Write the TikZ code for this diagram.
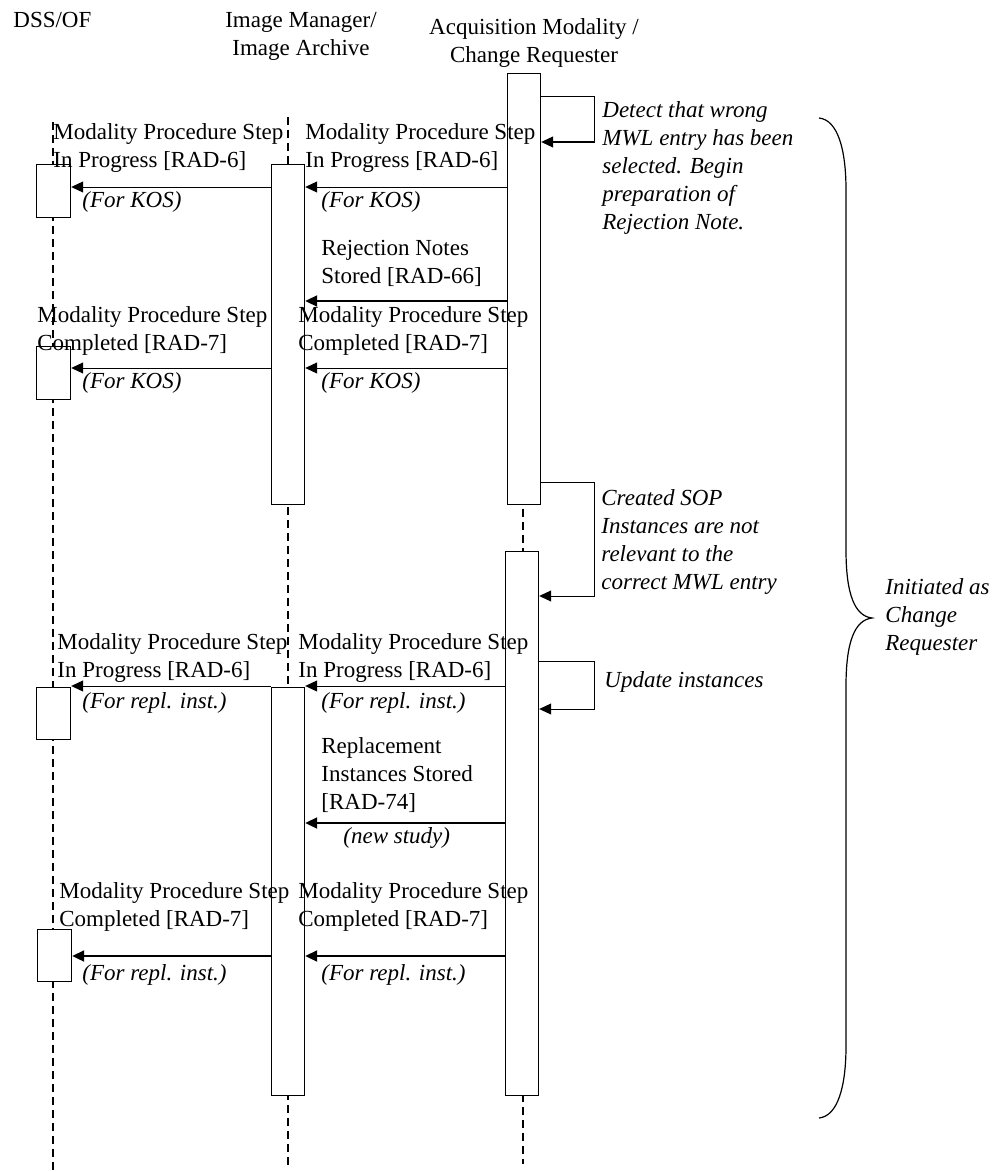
\documentclass[tikz,border=0pt]{standalone}
\usepackage{fontspec}
\setmainfont{Liberation Serif}
\usetikzlibrary{arrows.meta}

\begin{document}
\begin{tikzpicture}[x=0.5pt,y=-0.5pt,
  font=\fontsize{11.5}{14}\selectfont,
  act/.style={draw, fill=white, line width=0.6pt, inner sep=0pt, minimum width=16.5pt, anchor=north west},
  life/.style={dash pattern=on 4pt off 2.5pt, line width=0.6pt},
  msg/.style={line width=0.5pt, -{Triangle[length=6pt,width=5.5pt]}},
  bold msg/.style={msg, line width=1pt},
  txt/.style={anchor=base west, align=left, inner sep=0pt},
  note/.style={txt, font=\fontsize{11.5}{14}\selectfont\itshape}]
  \useasboundingbox (0,0) rectangle (999,1172);
  % actors (base = last line)
  \node[txt] (dssT) at (13,28) {DSS/OF};
  \node[align=center, anchor=base, inner sep=0pt] (imT) at (301,56) {Image Manager/\\Image Archive};
  \node[align=center, anchor=base, inner sep=0pt] (amT) at (534,63) {Acquisition Modality /\\Change Requester};
  % lifelines
  \coordinate (dssTop) at (53,122);
  \coordinate (dssEnd) at (53,1172);
  \coordinate (imTop) at (288,117);
  \coordinate (imEnd) at (288,1167);
  \coordinate (amTop) at (523,80);
  \coordinate (amEnd) at (523,1164);
  \draw[life] (dssTop) -- (dssEnd);
  \draw[life] (imTop) -- (imEnd);
  \draw[life] (amTop) -- (amEnd);
  % activations
  \node[act, minimum width=17pt, minimum height=26.5pt] (dss1) at (36,164) {};
  \node[act, minimum width=17pt, minimum height=26.5pt] (dss2) at (36,346) {};
  \node[act, minimum width=17pt, minimum height=26pt] (dss3) at (36,687) {};
  \node[act, minimum width=17pt, minimum height=26pt] (dss4) at (37,929) {};
  \node[act, minimum height=170pt] (im1) at (271,164) {};
  \node[act, minimum height=204pt] (im2) at (271,687) {};
  \node[act, minimum height=215.5pt] (am1) at (507,73) {};
  \node[act, minimum height=272pt] (am2) at (505,551) {};
  % in progress (KOS)
  \draw[msg] (am1.west |- 0,187) -- (im1.east |- 0,187);
  \node[txt] (ip1r) at (305,168) {Modality Procedure Step\\In Progress [RAD-6]};
  \node[note] (kos1r) at (321,207) {(For KOS)};
  \draw[msg] (im1.west |- 0,187) -- (dss1.east |- 0,187);
  \node[txt] (ip1l) at (53,168) {Modality Procedure Step\\In Progress [RAD-6]};
  \node[note] (kos1l) at (82,207) {(For KOS)};
  % rejection notes
  \draw[bold msg] (am1.west |- 0,301) -- (im1.east |- 0,301);
  \node[txt] (rej) at (321,283) {Rejection Notes\\Stored [RAD-66]};
  % completed (KOS)
  \draw[msg] (am1.west |- 0,368) -- (im1.east |- 0,368);
  \node[txt] (cp1r) at (298,350) {Modality Procedure Step\\Completed [RAD-7]};
  \node[note] (kos2r) at (321,388) {(For KOS)};
  \draw[msg] (im1.west |- 0,368) -- (dss2.east |- 0,368);
  \node[txt] (cp1l) at (37,350) {Modality Procedure Step\\Completed [RAD-7]};
  \node[note] (kos2l) at (82,388) {(For KOS)};
  % detect
  \draw[msg] (am1.east |- 0,97) -- ++(53,0) -- ++(0,45) -- (am1.east |- 0,142);
  \node[note] (detect) at (602,229) {Detect that wrong\\MWL entry has been\\selected. Begin\\preparation of\\Rejection Note.};
  % created SOP
  \draw[msg] (am1.east |- 0,482) -- ++(53,0) -- ++(0,114) -- (am2.east |- 0,596);
  \node[note] (sop) at (601,589) {Created SOP\\Instances are not\\relevant to the\\correct MWL entry};
  % update
  \draw[msg] (am2.east |- 0,661) -- ++(55,0) -- ++(0,48) -- (am2.east |- 0,709);
  \node[note] (upd) at (604,687) {Update instances};
  % in progress (repl.)
  \draw[msg] (am2.west |- 0,686) -- (im2.east |- 0,686);
  \node[txt] (ip2r) at (298,677) {Modality Procedure Step\\In Progress [RAD-6]};
  \node[note] (repl1r) at (321,708) {(For repl. inst.)};
  \draw[msg] (im2.west |- 0,686) -- (dss3.east |- 0,686);
  \node[txt] (ip2l) at (57,677) {Modality Procedure Step\\In Progress [RAD-6]};
  \node[note] (repl1l) at (82,708) {(For repl. inst.)};
  % replacement stored
  \draw[bold msg] (am2.west |- 0,823) -- (im2.east |- 0,823);
  \node[txt] (rep) at (321,809) {Replacement\\Instances Stored\\{}[RAD-74]};
  \node[note] (newst) at (343,843) {(new study)};
  % completed (repl.)
  \draw[bold msg] (am2.west |- 0,956) -- (im2.east |- 0,956);
  \node[txt] (cp2r) at (298,926) {Modality Procedure Step\\Completed [RAD-7]};
  \node[note] (repl2r) at (321,980) {(For repl. inst.)};
  \draw[bold msg] (im2.west |- 0,956) -- (dss4.east |- 0,956);
  \node[txt] (cp2l) at (59,926) {Modality Procedure Step\\Completed [RAD-7]};
  \node[note] (repl2l) at (82,980) {(For repl. inst.)};
  % brace
  \draw[line width=0.6pt] (819,118) .. controls (838,120) and (846,150) .. (846,190) -- (846,550)
    .. controls (846,595) and (855,616) .. (872,618) .. controls (855,620) and (846,641) .. (846,686)
    -- (846,1046) .. controls (846,1086) and (838,1116) .. (819,1118);
  \node[note] (initcr) at (885,650) {Initiated as\\Change\\Requester};
\end{tikzpicture}
\end{document}
